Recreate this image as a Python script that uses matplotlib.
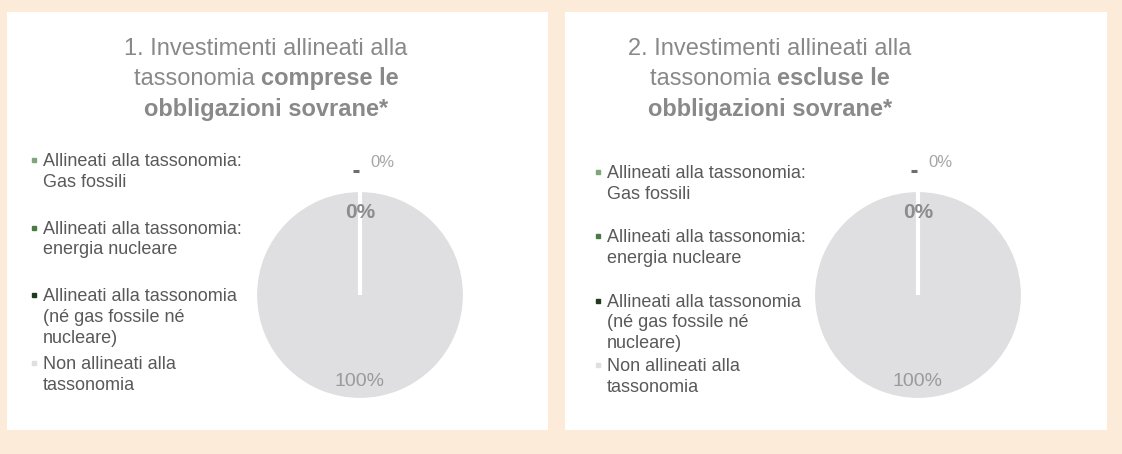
import matplotlib
matplotlib.use('Agg')
import numpy as np
import matplotlib.pyplot as plt
from matplotlib.patches import Rectangle
from matplotlib.lines import Line2D

plt.rcParams['font.family'] = ['Liberation Sans', 'DejaVu Sans']

W, H = 1122, 454

# data
categories = ['Allineati alla tassonomia:\nGas fossili',
              'Allineati alla tassonomia:\nenergia nucleare',
              'Allineati alla tassonomia\n(né gas fossile né\nnucleare)',
              'Non allineati alla\ntassonomia']
colors = ['#7FA67A', '#4C7A47', '#1E3B1E', '#DFDFE1']
values_incl = [0, 0, 0, 100]
values_excl = [0, 0, 0, 100]
titles = [('1. Investimenti allineati alla', 'tassonomia ', 'comprese le', 'obbligazioni sovrane*'),
          ('2. Investimenti allineati alla', 'tassonomia ', 'escluse le', 'obbligazioni sovrane*')]

fig = plt.figure(figsize=(W / 100, H / 100), dpi=100, facecolor='#FDEBDA')


def fx(x):
    return x / W


def fy(y):
    return 1 - y / H


# white panels
for x0, x1 in [(7, 548), (565, 1107)]:
    fig.patches.append(Rectangle((fx(x0), fy(430)), fx(x1 - x0), (430 - 12) / H,
                                 transform=fig.transFigure, facecolor='white',
                                 edgecolor='none', zorder=-1))

renderer = fig.canvas.get_renderer()
tcol = '#898989'


def title_line(pieces, cx, y, size=17):
    # pieces: list of (text, weight)
    arts = []
    for s, wgt in pieces:
        t = fig.text(0, fy(y), s, fontsize=size, fontweight=wgt, color=tcol,
                     ha='left', va='baseline')
        arts.append(t)
    widths = [a.get_window_extent(renderer).width for a in arts]
    x = cx - sum(widths) / 2
    for a, w in zip(arts, widths):
        a.set_x(fx(x))
        x += w


def panel(values, title, cx_title, leg_x, leg_y0, pitch, pie_cx):
    title_line([(title[0], 'normal')], cx_title, 55)
    title_line([(title[1], 'normal'), (title[2], 'bold')], cx_title, 85)
    title_line([(title[3], 'bold')], cx_title, 116)

    # legend
    for i, (lab, c) in enumerate(zip(categories, colors)):
        yb = leg_y0 + i * pitch
        fig.add_artist(Line2D([fx(leg_x - 9)], [fy(yb - 6)], marker='s', markersize=3.5,
                              color=c, transform=fig.transFigure))
        for j, line in enumerate(lab.split('\n')):
            fig.text(fx(leg_x), fy(yb + j * 20.8), line, fontsize=13,
                     color='#595959', ha='left', va='baseline')

    r = 105
    ax = fig.add_axes([fx(pie_cx - r), fy(295 + r), 2 * r / W, 2 * r / H], zorder=2)
    wedges, _ = ax.pie(values, colors=colors, startangle=90, counterclock=False,
                       wedgeprops=dict(edgecolor='white', linewidth=3))
    ax.set_xlim(-1, 1)
    ax.set_ylim(-1, 1)
    ax.set_aspect('equal')
    ax.axis('off')

    # slice border from centre (full wedge has no radial edge of its own)
    a0 = np.deg2rad(wedges[-1].theta2)
    ax.plot([0, np.cos(a0)], [0, np.sin(a0)], color='white', lw=3,
            solid_capstyle='butt')

    total = sum(values)
    for i, (w, v) in enumerate(zip(wedges, values)):
        ang = np.deg2rad((w.theta1 + w.theta2) / 2)
        lab = f'{v / total:.0%}'
        if i == 0:
            ax.plot([np.cos(ang) * 1.2 - 0.07, np.cos(ang) * 1.2 - 0.01],
                    [np.sin(ang) * 1.2 - 0.02] * 2, color='#6E6E6E', lw=2.2,
                    solid_capstyle='butt', clip_on=False)
            ax.text(np.cos(ang) * 1.2 + 0.1, np.sin(ang) * 1.26, lab, fontsize=12,
                    color='#A6A6A6', ha='left', va='center')
        elif i == 1:
            ax.text(np.cos(ang) * 0.79, np.sin(ang) * 0.79, lab, fontsize=15,
                    fontweight='bold', color='#8C8C8C', ha='center', va='center')
        elif i == 3:
            ax.text(np.cos(ang) * 0.82, np.sin(ang) * 0.82, lab, fontsize=14,
                    color='#9A9A9A', ha='center', va='center')


panel(values_incl, titles[0], 266, 43, 166, 67.7, 360)
panel(values_excl, titles[1], 770, 607, 178, 64.3, 918)

fig.savefig('out.png', dpi=100, facecolor=fig.get_facecolor())
